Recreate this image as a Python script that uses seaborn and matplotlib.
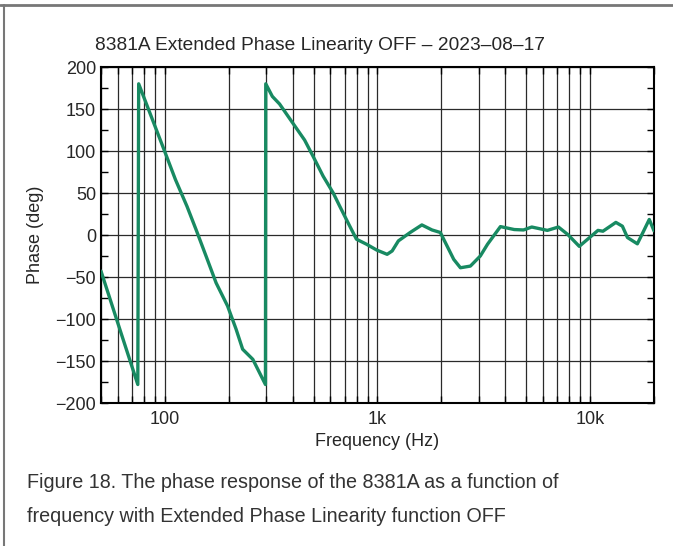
import matplotlib
matplotlib.use("Agg")
import matplotlib.pyplot as plt
import matplotlib.ticker as mticker
from matplotlib.lines import Line2D
import seaborn as sns
import pandas as pd

# ---- data ----
freq_hz = [50, 62, 74.5, 75.2, 99, 112, 127, 140, 156, 174, 197, 216, 232, 259, 297,
           298, 320, 346, 400, 454, 498, 555, 619, 665, 727, 796, 888, 993, 1110, 1172,
           1254, 1425, 1617, 1805, 1975, 2124, 2284, 2456, 2736, 3046, 3294, 3788, 4400,
           4863, 5320, 6300, 7100, 7867, 8900, 9800, 10900, 11500, 13230, 14200, 15000,
           16700, 17700, 19000, 20000]
phase_deg = [-43, -116, -178, 180, 101.5, 66, 34, 6.5, -25, -57, -84.5, -112, -136, -148, -178,
             180, 165, 156, 133, 113, 93.5, 70, 50, 34, 14.5, -5, -11, -18, -23, -19,
             -7, 3, 12, 6, 3, -13, -29, -39, -37, -25, -11, 10, 6.5,
             6, 9.5, 5.5, 9.5, 0.5, -13.5, -4.5, 5.5, 4.5, 15, 10.5, -3,
             -10.5, 2.5, 18.5, 5]
x_ticks = [100, 1000, 10000]
x_tick_labels = ["100", "1k", "10k"]
y_ticks = [-200, -150, -100, -50, 0, 50, 100, 150, 200]

title = "8381A Extended Phase Linearity OFF \u2013 2023\u201308\u201317"
caption = ["Figure 18. The phase response of the 8381A as a function of",
           "frequency with Extended Phase Linearity function OFF"]

sns.set_style("ticks")
plt.rcParams["font.family"] = ["Liberation Sans", "DejaVu Sans"]

W, H = 673, 546
fig = plt.figure(figsize=(W / 100, H / 100), dpi=100)
ax = fig.add_axes([101 / W, 1 - 403 / H, (654 - 101) / W, (403 - 67) / H])

df = pd.DataFrame({"Frequency": freq_hz, "Phase": phase_deg})
sns.lineplot(data=df, x="Frequency", y="Phase", sort=False, estimator=None,
             color="#188a62", linewidth=2.4, ax=ax, zorder=3)

ax.set_xscale("log")
ax.set_xlim(50, 20000)
ax.set_ylim(-200, 200)

ax.xaxis.set_major_locator(mticker.FixedLocator(x_ticks))
ax.xaxis.set_major_formatter(mticker.FixedFormatter(x_tick_labels))
ax.xaxis.set_minor_locator(mticker.LogLocator(base=10, subs=range(2, 10), numticks=20))
ax.xaxis.set_minor_formatter(mticker.NullFormatter())
ax.yaxis.set_major_locator(mticker.FixedLocator(y_ticks))
ax.yaxis.set_minor_locator(mticker.MultipleLocator(25))

ax.grid(True, which="both", axis="x", color="#2a2a2a", linewidth=0.9)
ax.grid(True, which="major", axis="y", color="#2a2a2a", linewidth=0.9)

ax.tick_params(which="both", direction="in", top=True, right=True,
               labelsize=13, color="black", width=1)
ax.tick_params(which="major", length=5)
ax.tick_params(which="minor", length=5)
ax.tick_params(axis="x", which="major", pad=6)
for s in ax.spines.values():
    s.set_color("black")
    s.set_linewidth(1.5)

ax.set_xlabel("Frequency (Hz)", fontsize=13, labelpad=3)
ax.set_ylabel("Phase (deg)", fontsize=13, labelpad=8)
fig.text(320 / W, 1 - 45 / H, title, fontsize=13.8, ha="center", va="center")

fig.text(27 / W, 1 - 483 / H, caption[0], fontsize=14.2, color="#333333", ha="left", va="center")
fig.text(27 / W, 1 - 517 / H, caption[1], fontsize=14.2, color="#333333", ha="left", va="center")

# outer frame (top and left)
fig.add_artist(Line2D([0, 1], [1 - 5 / H, 1 - 5 / H], color="#777777", linewidth=2))
fig.add_artist(Line2D([4 / W, 4 / W], [0, 1 - 5 / H], color="#777777", linewidth=1.5))

fig.savefig("out.png", dpi=100)
